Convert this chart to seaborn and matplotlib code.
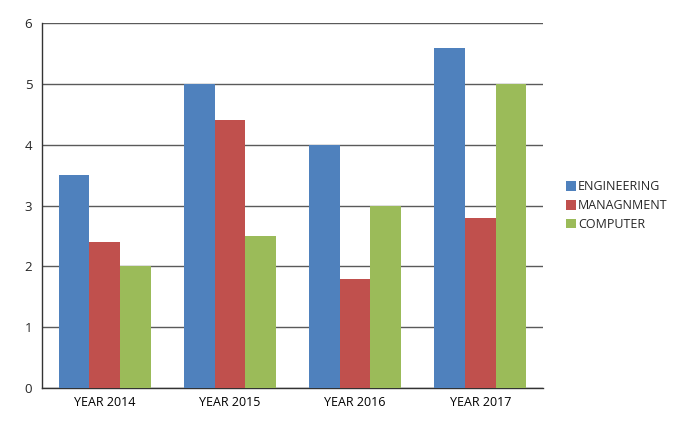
import pandas as pd
import matplotlib.pyplot as plt
import seaborn as sns

years = ['YEAR 2014', 'YEAR 2015', 'YEAR 2016', 'YEAR 2017']
engineering = [3.5, 5.0, 4.0, 5.6]
managnment = [2.4, 4.4, 1.8, 2.8]
computer = [2.0, 2.5, 3.0, 5.0]
series_names = ['ENGINEERING', 'MANAGNMENT', 'COMPUTER']
colors = ['#4F81BD', '#C0504D', '#9BBB59']

rows = []
for name, vals in zip(series_names, [engineering, managnment, computer]):
    for yr, v in zip(years, vals):
        rows.append({'year': yr, 'dept': name, 'value': v})
df = pd.DataFrame(rows)

sns.set_style('white')
plt.rcParams['font.family'] = ['Open Sans', 'DejaVu Sans']

fig = plt.figure(figsize=(6.84, 4.34), dpi=100)
ax = fig.add_axes([0.0614, 0.106, 0.7325, 0.8405])

sns.barplot(data=df, x='year', y='value', hue='dept', hue_order=series_names,
            palette=colors, width=0.735, gap=0, saturation=1, ax=ax, zorder=3,
            linewidth=0, edgecolor='none')

ax.set_ylim(0, 6)
ax.set_xlim(-0.5, 3.5)
ax.set_yticks(range(0, 7))
ax.yaxis.grid(True, color='#5a5a5a', linewidth=1, zorder=0)
ax.set_axisbelow(True)
ax.set_xlabel('')
ax.set_ylabel('')

for side in ['top', 'right']:
    ax.spines[side].set_visible(False)
for side in ['left', 'bottom']:
    ax.spines[side].set_color('#333333')
    ax.spines[side].set_linewidth(1)

ax.set_xticks([0, 1, 2, 3])
ax.set_xticklabels(years)
ax.tick_params(axis='x', length=0, labelsize=9, pad=6, colors='#000000')
ax.set_xticks([-0.5, 0.5, 1.5, 2.5, 3.5], minor=True)
ax.tick_params(axis='x', which='minor', length=5, width=1, color='#333333', direction='out')
ax.tick_params(axis='y', length=4, width=1, color='#333333', direction='out', labelsize=9.5, pad=3)

handles, labels = ax.get_legend_handles_labels()
ax.legend(handles, labels, loc='center left', bbox_to_anchor=(1.035, 0.5),
          frameon=False, fontsize=9, handlelength=0.8, handleheight=0.8,
          handletextpad=0.2, labelspacing=0.45, borderaxespad=0)

fig.savefig('out.png', dpi=100)
